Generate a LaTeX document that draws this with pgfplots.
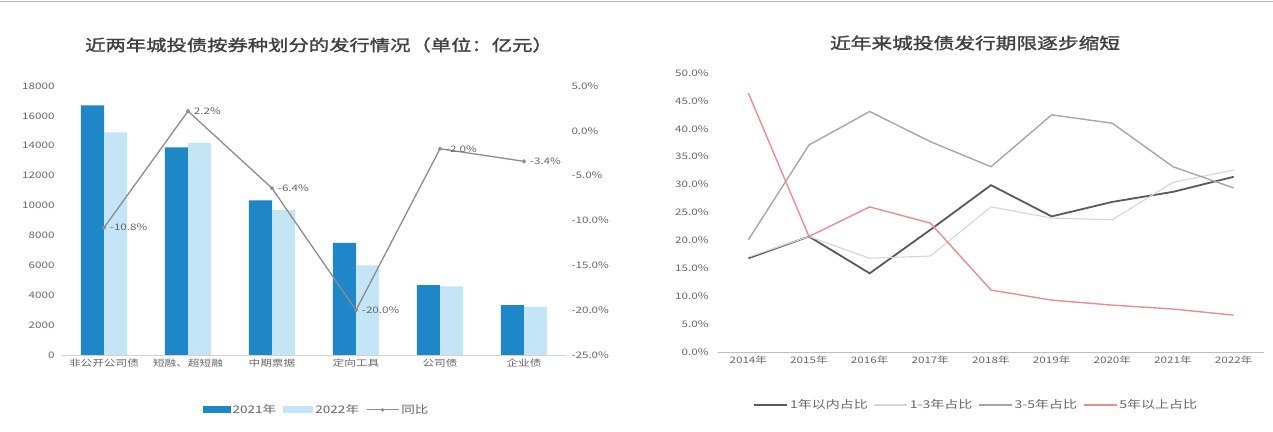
\documentclass[border=0pt]{standalone}
\usepackage{fontspec}
\setmainfont{Noto Sans CJK SC}[FakeStretch=1.3]
\newfontfamily\titlefont{Noto Sans CJK SC}[FakeStretch=1.3, FakeBold=1.5]
\usepackage{pgfplots}
\pgfplotsset{compat=1.18}
\definecolor{barA}{HTML}{1F87C7}
\definecolor{barB}{HTML}{C3E5F5}
\definecolor{lineG}{HTML}{8C8C8C}
\definecolor{lA}{HTML}{595959}
\definecolor{lB}{HTML}{D6D6D6}
\definecolor{lC}{HTML}{A6A6A6}
\definecolor{lD}{HTML}{EE8C8C}
\definecolor{txt}{HTML}{666666}
\begin{document}
\begin{tikzpicture}
\useasboundingbox (0,0) rectangle (1273bp,432bp);
\fill[white] (0,0) rectangle (1273bp,432bp);
\draw[gray!60, line width=1pt] (0,430bp) -- (1273bp,430bp);
\node[font=\titlefont\fontsize{15.7}{16}\selectfont, text=black!75] at (319bp,387bp) {近两年城投债按券种划分的发行情况（单位：亿元）};
\node[font=\titlefont\fontsize{16}{17}\selectfont, text=black!75] at (975bp,389bp) {近年来城投债发行期限逐步缩短};

% ---------- left: bars ----------
\begin{axis}[at={(62bp,77bp)}, anchor=south west, scale only axis,
  width=504bp, height=269bp,
  xmin=-0.5, xmax=5.5, ymin=0, ymax=18000,
  ytick={0,2000,...,18000}, scaled y ticks=false,
  xtick={0,...,5},
  xticklabels={非公开公司债,短融、超短融,中期票据,定向工具,公司债,企业债},
  axis y line*=left, axis x line*=bottom,
  y axis line style={draw=none}, x axis line style={draw=gray!35,-},
  major tick length=0pt,
  ybar=0pt, bar width=23bp,
  yticklabel style={font=\fontsize{9}{10}\selectfont, text=txt, xshift=-4bp},
  xticklabel style={font=\fontsize{9}{10}\selectfont, text=txt},
  /pgf/number format/1000 sep={},
  /pgf/number format/assume math mode=true,
  legend style={at={(0.505,-0.204)}, anchor=center, draw=none, legend columns=3,
    font=\fontsize{10.5}{11}\selectfont, text=txt, /tikz/every even column/.append style={column sep=5bp}},
]
\addplot[fill=barA, draw=none, legend image code/.code={\fill[barA] (0bp,-3.5bp) rectangle (28bp,3.5bp);}]
  coordinates {(0,16700) (1,13900) (2,10350) (3,7500) (4,4680) (5,3330)};
\addplot[fill=barB, draw=none, legend image code/.code={\fill[barB] (0bp,-3.5bp) rectangle (30bp,3.5bp);}]
  coordinates {(0,14900) (1,14200) (2,9690) (3,6000) (4,4590) (5,3220)};
\addlegendimage{legend image code/.code={\draw[lineG, line width=1.2pt] (0bp,0bp) -- (32bp,0bp); \fill[lineG] (16bp,0bp) circle (1.6bp);}}
\legend{2021年,2022年,同比}
\end{axis}

% ---------- left: growth line ----------
\begin{axis}[at={(62bp,77bp)}, anchor=south west, scale only axis,
  width=504bp, height=269bp,
  xmin=-0.5, xmax=5.5, ymin=-25, ymax=5,
  ytick={-25,-20,...,5},
  axis y line*=right, axis x line=none,
  y axis line style={draw=none},
  major tick length=0pt,
  yticklabel={\pgfmathprintnumber[fixed,fixed zerofill,precision=1]{\tick}\%},
  yticklabel style={font=\fontsize{9}{10}\selectfont, text=txt, xshift=2bp},
  /pgf/number format/assume math mode=true,
  nodes near coords, point meta=explicit symbolic,
  nodes near coords style={font=\fontsize{9}{10}\selectfont, text=txt, anchor=west, xshift=2bp},
]
\addplot[lineG, line width=1.3pt, mark=*, mark size=1.3pt] table[meta=lab] {
x y lab
0 -10.8 -10.8\%
1 2.2 2.2\%
2 -6.4 -6.4\%
3 -20.0 -20.0\%
4 -2.0 -2.0\%
5 -3.4 -3.4\%
};
\end{axis}

% ---------- right: maturity shares ----------
\begin{axis}[at={(718bp,80bp)}, anchor=south west, scale only axis,
  width=546bp, height=279bp,
  xmin=-0.5, xmax=8.5, ymin=0, ymax=50,
  ytick={0,5,...,50},
  xtick={0,...,8},
  xticklabels={2014年,2015年,2016年,2017年,2018年,2019年,2020年,2021年,2022年},
  axis y line*=left, axis x line*=bottom,
  y axis line style={draw=none}, x axis line style={draw=gray!50,-},
  major tick length=0pt,
  yticklabel={\pgfmathprintnumber[fixed,fixed zerofill,precision=1]{\tick}\%},
  yticklabel style={font=\fontsize{9}{10}\selectfont, text=txt, xshift=-6bp},
  xticklabel style={font=\fontsize{9}{10}\selectfont, text=txt},
  /pgf/number format/assume math mode=true,
  legend style={at={(0.473,-0.19)}, anchor=center, draw=none, legend columns=4,
    font=\fontsize{10.8}{11}\selectfont, text=txt, /tikz/every even column/.append style={column sep=4bp}},
  legend image code/.code={\draw[#1] (0bp,0bp) -- (33bp,0bp);},
]
\addplot[lA, line width=1.8pt] coordinates {(0,16.8) (1,20.7) (2,14.1) (3,21.9) (4,29.9) (5,24.3) (6,26.9) (7,28.7) (8,31.4)};
\addplot[lB, line width=1.1pt] coordinates {(0,17.0) (1,20.7) (2,16.8) (3,17.2) (4,26.0) (5,24.0) (6,23.7) (7,30.4) (8,32.6)};
\addplot[lC, line width=1.4pt] coordinates {(0,20.1) (1,37.1) (2,43.1) (3,37.7) (4,33.2) (5,42.5) (6,41.0) (7,33.2) (8,29.4)};
\addplot[lD, line width=1.4pt] coordinates {(0,46.4) (1,20.7) (2,26.0) (3,23.1) (4,11.1) (5,9.3) (6,8.4) (7,7.7) (8,6.6)};
\legend{1年以内占比,1-3年占比,3-5年占比,5年以上占比}
\end{axis}
\end{tikzpicture}
\end{document}
